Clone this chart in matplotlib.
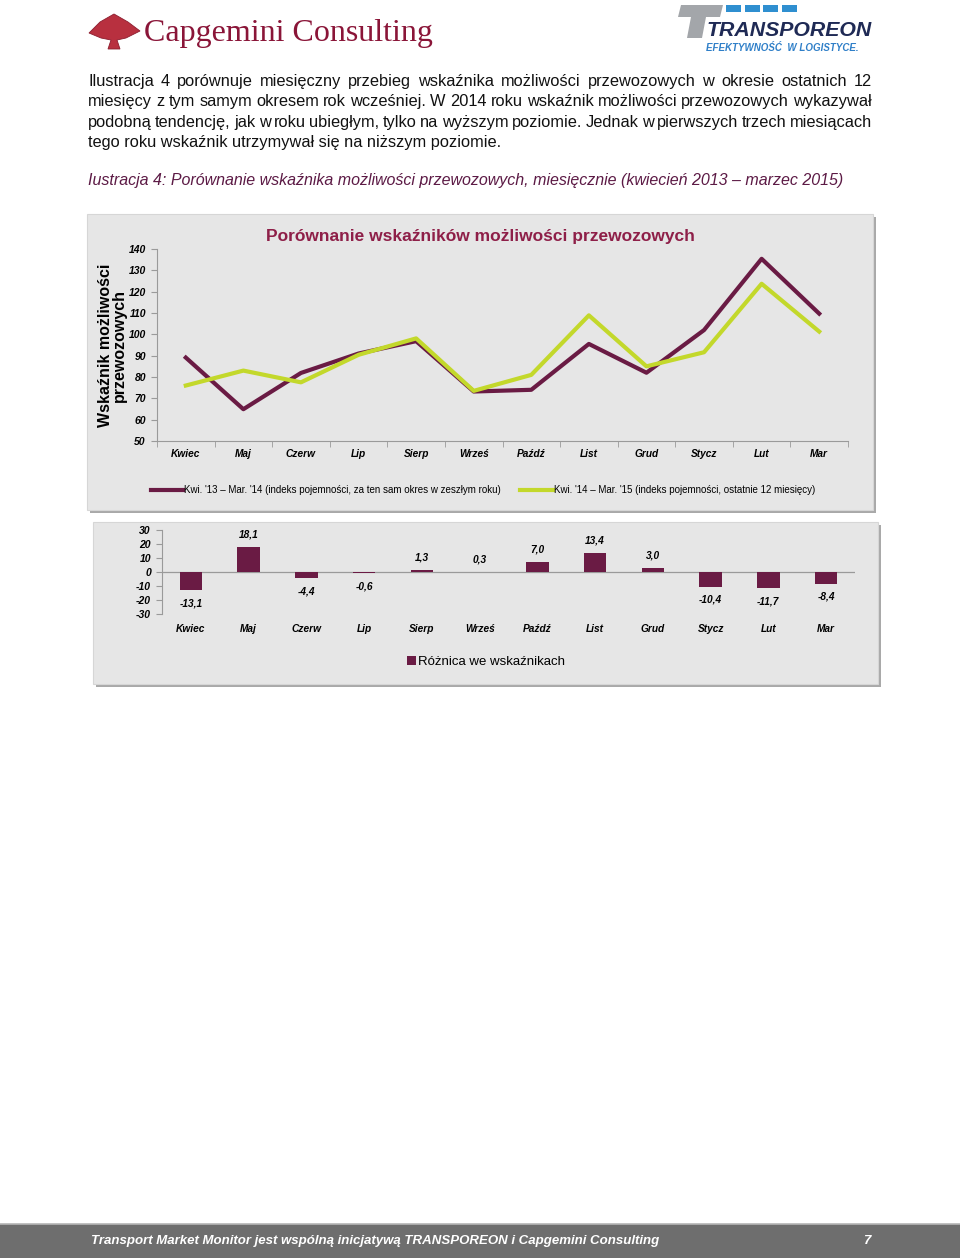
import matplotlib
matplotlib.use("Agg")
import matplotlib.pyplot as plt
from matplotlib.patches import Rectangle, Polygon
from matplotlib.lines import Line2D

plt.rcParams["font.family"] = ["Liberation Sans", "DejaVu Sans"]

W, H = 960, 1260

months = ["Kwiec", "Maj", "Czerw", "Lip", "Sierp", "Wrześ",
          "Paźdź", "List", "Grud", "Stycz", "Lut", "Mar"]
prev_year = [89.1, 64.9, 81.9, 91.0, 96.8, 73.2, 74.0, 95.5, 82.0, 102.0, 135.4, 109.7]
last_12m = [76.0, 83.0, 77.5, 90.4, 98.1, 73.5, 81.0, 108.9, 85.0, 91.6, 123.7, 101.3]
diff = [-13.1, 18.1, -4.4, -0.6, 1.3, 0.3, 7.0, 13.4, 3.0, -10.4, -11.7, -8.4]
line_yticks = [50, 60, 70, 80, 90, 100, 110, 120, 130, 140]
bar_yticks = [-30, -20, -10, 0, 10, 20, 30]

DARK = "#6a1b44"
GREEN = "#c3d82b"
TITLE_RED = "#8e1f48"
BOX = "#e6e6e6"

paragraph = [
    "Ilustracja 4 porównuje miesięczny przebieg wskaźnika możliwości przewozowych w okresie ostatnich 12",
    "miesięcy z tym samym okresem rok wcześniej. W 2014 roku wskaźnik możliwości przewozowych wykazywał",
    "podobną tendencję, jak w roku ubiegłym, tylko na wyższym poziomie. Jednak w pierwszych trzech miesiącach",
    "tego roku wskaźnik utrzymywał się na niższym poziomie.",
]


def fx(x):
    return x / W


def fy(y):
    return 1 - y / H


def box(fig, x0, y0, x1, y1):
    # shadow + grey panel
    fig.add_artist(Rectangle((fx(x0 + 3), fy(y1 + 3)), fx(x1 - x0), (y1 - y0) / H,
                             transform=fig.transFigure, facecolor="#a9a9a9",
                             edgecolor="none", zorder=-6))
    fig.add_artist(Rectangle((fx(x0), fy(y1)), fx(x1 - x0), (y1 - y0) / H,
                             transform=fig.transFigure, facecolor=BOX,
                             edgecolor="#d6d6d6", lw=0.8, zorder=-5))


fig = plt.figure(figsize=(9.6, 12.6), dpi=100)

# --- header logos ---
spade = Polygon([(fx(89), fy(33)), (fx(100), fy(22)), (fx(114), fy(14)), (fx(128), fy(22)),
                 (fx(140), fy(31)), (fx(126), fy(38)), (fx(117), fy(40)), (fx(120), fy(49)),
                 (fx(108), fy(49)), (fx(111), fy(40)), (fx(101), fy(38))],
                closed=True, transform=fig.transFigure, facecolor="#b8303f",
                edgecolor="#8c1d2f", lw=0.6)
fig.add_artist(spade)
fig.text(fx(144), fy(33), "Capgemini Consulting", family="Liberation Serif",
         fontsize=23, color="#8a1538", va="center", ha="left")

tbar = Polygon([(fx(681), fy(5)), (fx(723), fy(5)), (fx(720), fy(17)), (fx(706), fy(17)),
                (fx(702), fy(38)), (fx(687), fy(38)), (fx(691), fy(17)), (fx(678), fy(17))],
               closed=True, transform=fig.transFigure, facecolor="#a3a6aa", edgecolor="none")
fig.add_artist(tbar)
for i in range(4):
    fig.add_artist(Rectangle((fx(726 + i * 18.5), fy(12)), fx(15), 7 / H,
                             transform=fig.transFigure, facecolor="#2f8fd0",
                             edgecolor="none"))
fig.text(fx(707), fy(30), "TRANSPOREON", fontsize=15.3, weight="bold", style="italic",
         color="#1f2a55", va="center", ha="left")
fig.text(fx(706), fy(48), "EFEKTYWNOŚĆ  W LOGISTYCE.", fontsize=7, weight="bold",
         style="italic", color="#2f7fc8", va="center", ha="left")

# --- paragraph (justified) ---
renderer = fig.canvas.get_renderer()
left, right = 88, 872
PFS = 11.8
for i, line in enumerate(paragraph):
    y = fy(86 + i * 20.3)
    words = line.split(" ")
    if i == len(paragraph) - 1:
        fig.text(fx(left), y, line, fontsize=PFS, va="baseline", ha="left", color="#111111")
        continue
    arts, widths = [], []
    for w in words:
        t = fig.text(0, y, w, fontsize=PFS, va="baseline", ha="left", color="#111111")
        arts.append(t)
        widths.append(t.get_window_extent(renderer).width)
    gap = (right - left - sum(widths)) / (len(words) - 1)
    x = left
    for t, wd in zip(arts, widths):
        t.set_x(fx(x))
        x += wd + gap

fig.text(fx(88), fy(181), "Iustracja 4: Porównanie wskaźnika możliwości przewozowych, miesięcznie "
         "(kwiecień 2013 – marzec 2015)", fontsize=11.55, style="italic", color="#5c1a45",
         va="center", ha="left")

# --- panels ---
box(fig, 87, 214, 873, 510)
box(fig, 93, 522, 878, 684)

# --- line chart ---
ax = fig.add_axes([fx(157), fy(441), fx(848 - 157), 192 / H])
ax.set_facecolor("none")
xs = list(range(len(months)))
l1, = ax.plot(xs, prev_year, color=DARK, lw=3,
              label="Kwi. '13 – Mar. '14 (indeks pojemności, za ten sam okres w zeszłym roku)")
l2, = ax.plot(xs, last_12m, color=GREEN, lw=3,
              label="Kwi. '14 – Mar. '15 (indeks pojemności, ostatnie 12 miesięcy)")
ax.set_xlim(-0.5, len(months) - 0.5)
ax.set_ylim(50, 140)
ax.set_yticks(line_yticks)
ax.set_yticklabels([str(v) for v in line_yticks], fontsize=7.5, weight="bold", style="italic")
ax.set_xticks(xs)
ax.set_xticklabels(months, fontsize=7.3, weight="bold", style="italic")
ax.set_xticks([x + 0.5 for x in [-1] + xs], minor=True)
ax.tick_params(axis="x", which="major", length=0, pad=6)
ax.tick_params(axis="x", which="minor", length=4, color="#9a9a9a")
ax.tick_params(axis="y", length=4, color="#9a9a9a", pad=4)
for s in ["top", "right"]:
    ax.spines[s].set_visible(False)
for s in ["left", "bottom"]:
    ax.spines[s].set_color("#9a9a9a")
ax.set_ylabel("Wskaźnik możliwości\nprzewozowych", fontsize=11.5, weight="bold",
              linespacing=0.95)
ax.yaxis.set_label_coords(-0.043, 0.5)
fig.text(fx(480), fy(237), "Porównanie wskaźników możliwości przewozowych", fontsize=12.5,
         weight="bold", color=TITLE_RED, ha="center", va="center")
ax.legend(handles=[l1, l2], loc="center", bbox_to_anchor=(fx(483), fy(490)),
          bbox_transform=fig.transFigure, ncol=2, frameon=False, fontsize=7,
          handlelength=3.3, handletextpad=0.15, columnspacing=2.0)

# --- bar chart ---
bx = fig.add_axes([fx(162), fy(614), fx(855 - 162), 84 / H])
bx.set_facecolor("none")
bx.bar(xs, diff, width=0.39, color=DARK, label="Różnica we wskaźnikach", zorder=3)
bx.axhline(0, color="#9a9a9a", lw=0.9, zorder=2)
bx.set_xlim(-0.5, len(months) - 0.5)
bx.set_ylim(-30, 30)
bx.set_yticks(bar_yticks)
bx.set_yticklabels([str(v) for v in bar_yticks], fontsize=7.5, weight="bold", style="italic")
bx.tick_params(axis="y", length=4, color="#9a9a9a", pad=4)
bx.set_xticks(xs)
bx.set_xticklabels(months, fontsize=7.3, weight="bold", style="italic")
bx.tick_params(axis="x", length=0, pad=7)
for s in ["top", "right", "bottom"]:
    bx.spines[s].set_visible(False)
bx.spines["left"].set_color("#9a9a9a")
for x, v in zip(xs, diff):
    off = 9 if v >= 0 else -9.5
    bx.annotate(f"{v:.1f}".replace(".", ","), (x, v), xytext=(0, off),
                textcoords="offset points", ha="center", va="center",
                fontsize=7.3, weight="bold", style="italic")
bx.legend(loc="center", bbox_to_anchor=(fx(486), fy(662)), bbox_transform=fig.transFigure,
          frameon=False, fontsize=9.5, handlelength=0.7, handleheight=0.7,
          handletextpad=0.2)

# --- footer ---
fig.add_artist(Rectangle((0, fy(1258)), 1, 34 / H, transform=fig.transFigure,
                         facecolor="#6e6e6e", edgecolor="none", zorder=-5))
fig.add_artist(Line2D([0, 1], [fy(1224), fy(1224)], transform=fig.transFigure,
                      color="#b5b5b5", lw=1.2))
fig.text(fx(91), fy(1241), "Transport Market Monitor jest wspólną inicjatywą TRANSPOREON i "
         "Capgemini Consulting", fontsize=9.5, weight="bold", style="italic",
         color="white", va="center", ha="left")
fig.text(fx(867), fy(1241), "7", fontsize=9.5, weight="bold", style="italic",
         color="white", va="center", ha="center")

fig.savefig("out.png", dpi=100)
